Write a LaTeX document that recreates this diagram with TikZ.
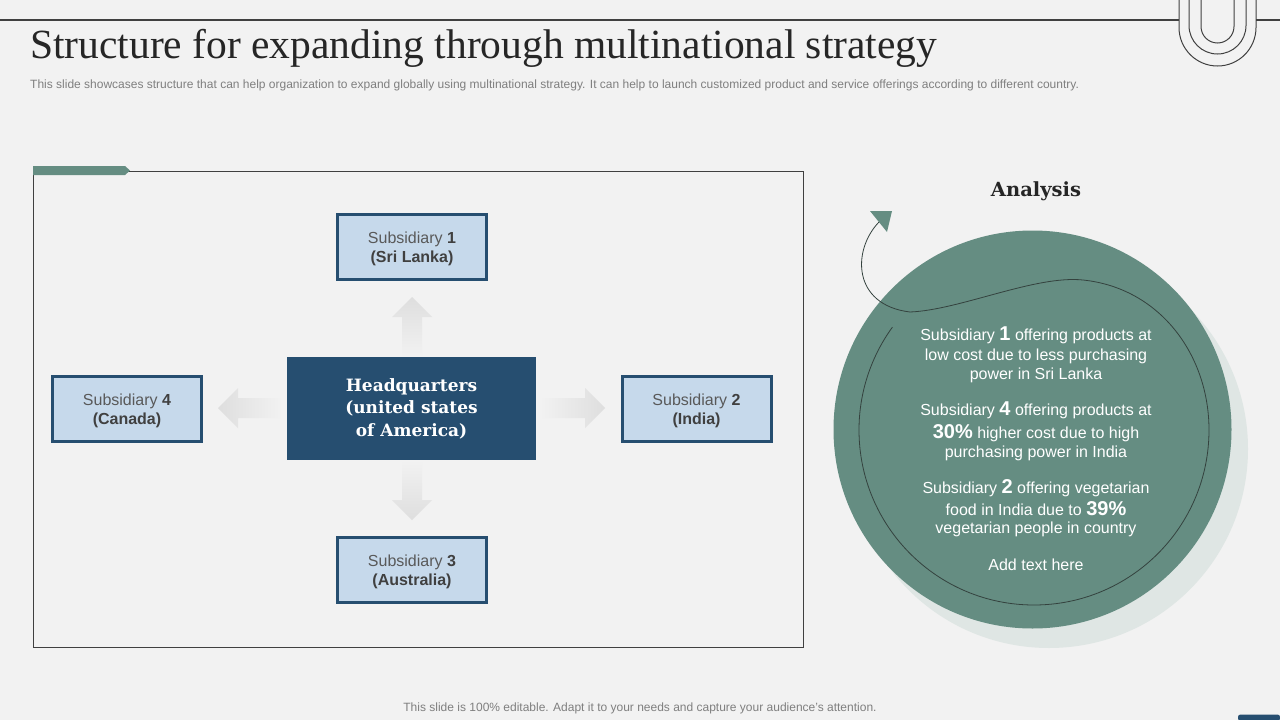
\documentclass[tikz,border=0pt]{standalone}
\usepackage{fontspec}
\setmainfont{Liberation Sans}
\newfontfamily\hqserif{DejaVu Serif}
\newfontfamily\titleserif{Liberation Serif}
\definecolor{bgc}{HTML}{F2F2F2}
\definecolor{linegray}{HTML}{404040}
\definecolor{titlecol}{HTML}{262626}
\definecolor{subgray}{HTML}{7F7F7F}
\definecolor{tealc}{RGB}{101,141,130}
\definecolor{shadowc}{HTML}{DFE6E4}
\definecolor{navyc}{RGB}{38,78,112}
\definecolor{lightbl}{HTML}{C6D9EB}
\definecolor{boxtxt}{HTML}{595959}
\definecolor{boxbold}{HTML}{404040}
\definecolor{arrowc}{HTML}{DEDEDE}
\definecolor{curvec}{HTML}{34423E}
\newcommand\bnum[1]{{\bfseries\fontsize{20}{20}\selectfont #1}}
\newcommand\subtext[2]{\raisebox{-15.5pt}[0pt][0pt]{\shortstack{Subsidiary {\bfseries\color{boxbold}#1}\\[1pt]{\bfseries\color{boxbold}(#2)}}}}
\tikzset{
  subbox/.style={draw=navyc, line width=3pt, fill=lightbl, minimum width=149pt, minimum height=65pt,
    align=center, font=\fontsize{16}{19}\selectfont, text=boxtxt, inner sep=0pt},
  hqbox/.style={fill=navyc, minimum width=249pt, minimum height=103pt, align=center,
    font=\hqserif\bfseries\fontsize{17}{22.5}\selectfont, text=white, inner sep=0pt},
  cline/.style={anchor=base, font=\fontsize{16}{19}\selectfont, text=white, inner sep=0pt},
}
\begin{document}
\begin{tikzpicture}[x=1pt,y=-1pt]
\useasboundingbox (0,0) rectangle (1280,720);
\fill[bgc] (0,0) rectangle (1280,720);
% top line and logo
\draw[linegray, line width=1.1pt] (0,20) -- (1179,20);
\draw[linegray, line width=1.1pt] (1256,20) -- (1280,20);
\draw[linegray, line width=1pt] (1179,0) -- (1179,27.5) arc[start angle=180, end angle=0, radius=38.5] -- (1256,0);
\draw[linegray, line width=1pt] (1189,0) -- (1189,25.5) arc[start angle=180, end angle=0, radius=28.5] -- (1246,0);
\draw[linegray, line width=1pt] (1201,0) -- (1201,26.5) arc[start angle=180, end angle=0, radius=16.5] -- (1234,0);
% title
\node[anchor=base west, inner sep=0pt, text=titlecol, font=\titleserif\fontsize{41.5}{44}\selectfont] (title) at (30,58)
  {Structure for expanding through multinational strategy};
\node[anchor=base west, inner sep=0pt, text=subgray, font=\fontsize{12}{14}\selectfont] (subtitle) at (30,88)
  {This slide showcases structure that can help organization to expand globally using multinational strategy. It can help to launch customized product and service offerings according to different country.};
% frame
\draw[linegray, line width=1pt] (33,171) rectangle (803,647);
\fill[tealc] (33,166) -- (125,166) -- (130,170.5) -- (125,175) -- (33,175) -- cycle;
% block arrows
\shade[top color=arrowc, bottom color=bgc] (402,357) -- (402,317) -- (392,317) -- (412,297) -- (432,317) -- (422,317) -- (422,357) -- cycle;
\shade[top color=bgc, bottom color=arrowc] (402,460) -- (402,500) -- (392,500) -- (412,520) -- (432,500) -- (422,500) -- (422,460) -- cycle;
\shade[left color=arrowc, right color=bgc] (282,398) -- (238,398) -- (238,388) -- (218,408) -- (238,428) -- (238,418) -- (282,418) -- cycle;
\shade[left color=bgc, right color=arrowc] (540,398) -- (585,398) -- (585,388) -- (605,408) -- (585,428) -- (585,418) -- (540,418) -- cycle;
% nodes
\node[hqbox] (hq) at (411.5,408.5) {Headquarters\\(united states\\of America)};
\node[subbox] (s1) at (412,247) {\subtext{1}{Sri Lanka}};
\node[subbox] (s4) at (127,408.5) {\subtext{4}{Canada}};
\node[subbox] (s2) at (696.5,408.5) {\subtext{2}{India}};
\node[subbox] (s3) at (412,570) {\subtext{3}{Australia}};
% analysis
\node[text=titlecol, font=\hqserif\bfseries\fontsize{19.5}{22}\selectfont, inner sep=0pt] (analysis) at (1036,191) {Analysis};
\fill[shadowc] (1049,449) circle (199);
\fill[tealc] (1032.5,429.5) circle (199);
\fill[tealc] (870,211) -- (892,211) -- (887,232) -- cycle;
\draw[curvec, line width=0.8pt] (879,222) .. controls (852,250) and (852,305) .. (910,312)
  .. controls (960,310) and (1035,275) .. (1083,280)
  .. controls (1160,288) and (1209,355) .. (1209,430)
  arc[start angle=0, end angle=216, radius=175];
% circle text
\node[cline] (a1) at (1036,340) {Subsidiary \bnum{1} offering products at};
\node[cline] (a2) at (1036,360) {low cost due to less purchasing};
\node[cline] (a3) at (1036,379) {power in Sri Lanka};
\node[cline] (b1) at (1036,415) {Subsidiary \bnum{4} offering products at};
\node[cline] (b2) at (1036,438) {\bnum{30\%} higher cost due to high};
\node[cline] (b3) at (1036,457) {purchasing power in India};
\node[cline] (c1) at (1036,493) {Subsidiary \bnum{2} offering vegetarian};
\node[cline] (c2) at (1036,515) {food in India due to \bnum{39\%}};
\node[cline] (c3) at (1036,533) {vegetarian people in country};
\node[cline] (d1) at (1036,570) {Add text here};
% footer
\node[anchor=base, inner sep=0pt, text=subgray, font=\fontsize{12}{14}\selectfont] (footer) at (640,711)
  {This slide is 100\% editable. Adapt it to your needs and capture your audience's attention.};
\fill[navyc, rounded corners=2.5pt] (1238,714.5) rectangle (1280,721);
\end{tikzpicture}
\end{document}
